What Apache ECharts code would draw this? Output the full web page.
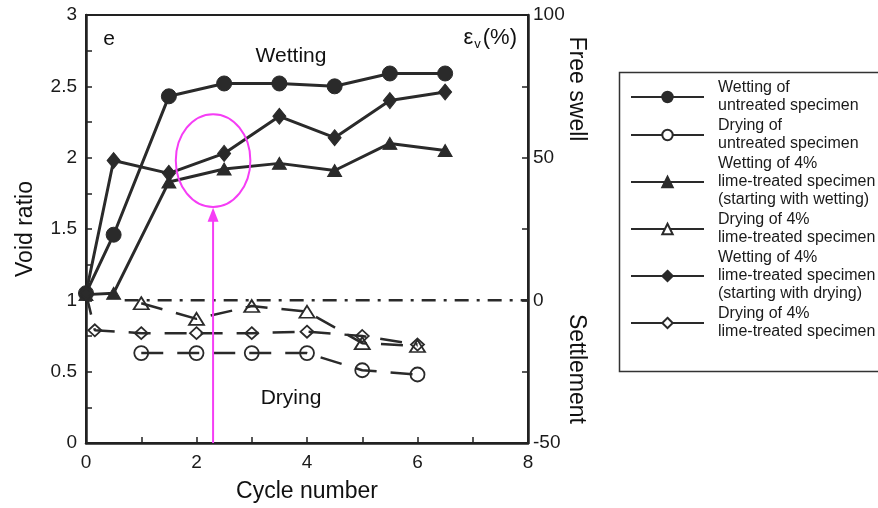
<!DOCTYPE html>
<html><head><meta charset="utf-8">
<script src="https://cdn.jsdelivr.net/npm/echarts@6/dist/echarts.min.js"></script>
<style>html,body{margin:0;padding:0;background:#fff}#c{width:878px;height:508px}</style>
</head><body><div id="c"></div>
<script>
// ---- data (cycle number, void ratio) ----
const wetUntreated = [[0,1.05],[0.5,1.46],[1.5,2.43],[2.5,2.52],[3.5,2.52],[4.5,2.50],[5.5,2.59],[6.5,2.59]];
const dryUntreated = [[1,0.63],[2,0.63],[3,0.63],[4,0.63],[5,0.51],[6,0.48]];
const wetLimeW = [[0,1.04],[0.5,1.05],[1.5,1.83],[2.5,1.92],[3.5,1.96],[4.5,1.91],[5.5,2.10],[6.5,2.05]];
const dryLime = [[1,0.98],[2,0.87],[3,0.96],[4,0.92],[5,0.70],[6,0.68]];
const wetLimeD = [[0,1.05],[0.5,1.98],[1.5,1.89],[2.5,2.03],[3.5,2.29],[4.5,2.14],[5.5,2.40],[6.5,2.46]];
const dryLimeD = [[0,1.05],[0.16,0.79],[1,0.77],[2,0.77],[3,0.77],[4,0.78],[5,0.75],[6,0.69]];
const zeroLine = [[0.7,1],[8,1]];
const arrowLine = [[2.3,0],[2.3,1.6]];
const ellipseCenter = [2.3,1.98];
const ellipseRadius = [0.675,0.325];

const labels = {
  wu:'Wetting of\nuntreated specimen',
  du:'Drying of\nuntreated specimen',
  wlw:'Wetting of 4%\nlime-treated specimen\n(starting with wetting)',
  dl:'Drying of 4%\nlime-treated specimen',
  wld:'Wetting of 4%\nlime-treated specimen\n(starting with drying)',
  dld:'Drying of 4%\nlime-treated specimen'
};
const xTicksMax = 8, yLeftMax = 3, yRightMin = -50, yRightMax = 100;

const FONT = 'Liberation Sans, Arial, sans-serif';
const INK = '#2a2a2a';
const PINK = '#f53df5';

const chart = echarts.init(document.getElementById('c'), null, {renderer:'canvas'});

function wet(name, data, symbol, size){
  return {name, type:'line', data, symbol, symbolSize:size, z:3,
    lineStyle:{color:INK, width:3}, itemStyle:{color:INK, borderColor:INK, borderWidth:1}};
}
function dry(name, data, symbol, size){
  return {name, type:'line', data, symbol, symbolSize:size, z:3,
    lineStyle:{color:INK, width:2.5, type:[22,14]}, itemStyle:{color:'rgba(255,255,255,0)', borderColor:INK, borderWidth:1.8}};
}

const axisLine = {show:true, lineStyle:{color:'#222', width:2.5}};
const tick = {show:true, inside:true, length:6, lineStyle:{color:'#222', width:1.5}};
const minor = {show:true, splitNumber:2, length:6, lineStyle:{color:'#222', width:1.5}};
const lbl = {fontFamily:FONT, fontSize:19, color:'#1a1a1a'};

chart.setOption({
  animation:false,
  backgroundColor:'#fff',
  grid:{left:86, right:350, top:15, bottom:65, show:true, borderColor:'#222', borderWidth:2, containLabel:false},
  xAxis:{type:'value', min:0, max:xTicksMax, interval:2,
    name:'Cycle number', nameLocation:'middle', nameGap:37,
    nameTextStyle:{fontFamily:FONT, fontSize:23, color:'#111'},
    axisLine, axisTick:tick, minorTick:minor, splitLine:{show:false}, minorSplitLine:{show:false},
    axisLabel:Object.assign({margin:10}, lbl)},
  yAxis:[
    {type:'value', min:0, max:yLeftMax, interval:0.5, position:'left',
      name:'Void ratio', nameLocation:'middle', nameGap:49, nameRotate:90,
      nameTextStyle:{fontFamily:FONT, fontSize:23, color:'#111'},
      axisLine, axisTick:tick, minorTick:minor, splitLine:{show:false},
      axisLabel:Object.assign({margin:9}, lbl)},
    {type:'value', min:yRightMin, max:yRightMax, interval:50, position:'right',
      axisLine, axisTick:tick, minorTick:minor, splitLine:{show:false},
      axisLabel:Object.assign({margin:5}, lbl)}
  ],
  legend:{orient:'vertical', left:630, top:79, padding:0, itemWidth:73, itemHeight:13, itemGap:2,
    textStyle:{fontFamily:FONT, fontSize:16, lineHeight:18, color:'#1a1a1a', padding:[0,0,0,9]},
    formatter:n=>labels[n],
    data:[
      {name:'wu'},
      {name:'du', lineStyle:{type:'solid'}, itemStyle:{color:'#fff'}},
      {name:'wlw'},
      {name:'dl', lineStyle:{type:'solid'}, itemStyle:{color:'#fff'}},
      {name:'wld'},
      {name:'dld', lineStyle:{type:'solid'}, itemStyle:{color:'#fff'}}
    ]},
  series:[
    wet('wu', wetUntreated, 'circle', 15),
    dry('du', dryUntreated, 'circle', 14),
    wet('wlw', wetLimeW, 'triangle', [14,12]),
    dry('dl', dryLime, 'triangle', [15,12]),
    wet('wld', wetLimeD, 'diamond', [13,16]),
    dry('dld', dryLimeD, 'diamond', [13,12]),
    {name:'zero', type:'line', data:zeroLine, symbol:'none', z:2,
      lineStyle:{color:INK, width:2.5, type:[14,8,3,8]}},
    {name:'arrow', type:'line', z:4, data:arrowLine.map((p,i)=> i===arrowLine.length-1
        ? {value:p, symbol:'triangle', symbolSize:[11,14]} : {value:p, symbol:'none'}),
      lineStyle:{color:PINK, width:2}, itemStyle:{color:PINK}}
  ]
});

const c = chart.convertToPixel({gridIndex:0}, ellipseCenter);
const e1 = chart.convertToPixel({gridIndex:0}, [ellipseCenter[0]+ellipseRadius[0], ellipseCenter[1]+ellipseRadius[1]]);
const txt = (text, x, y, size, extra) => Object.assign({type:'text', x, y, z:10,
  style:{text, fontFamily:FONT, fontSize:size, fill:'#111', align:'center', verticalAlign:'middle'}}, extra||{});

chart.setOption({graphic:[
  {type:'ellipse', z:5, shape:{cx:c[0], cy:c[1], rx:Math.abs(e1[0]-c[0]), ry:Math.abs(c[1]-e1[1])},
    style:{fill:'none', stroke:PINK, lineWidth:2}},
  {type:'rect', z:1, shape:{x:619.5, y:72.5, width:270, height:299},
    style:{fill:'none', stroke:'#333', lineWidth:1.5}},
  txt('e', 109, 39, 21),
  txt('Wetting', 291, 56, 21),
  txt('Drying', 291, 398, 21),
  txt('Free swell', 576, 89, 23, {rotation:-Math.PI/2}),
  txt('Settlement', 576, 369, 23, {rotation:-Math.PI/2}),
  {type:'text', x:517, y:38, z:10, style:{text:'{a|ε}{b|v}{a|(%)}', align:'right', verticalAlign:'middle',
    fill:'#111', fontFamily:FONT,
    rich:{a:{fontSize:22, fontFamily:FONT, fill:'#111', lineHeight:26, verticalAlign:'middle'},
          b:{fontSize:13, fontFamily:FONT, fill:'#111', lineHeight:26, verticalAlign:'bottom', padding:[0,2,0,1]}}}}
]});
</script></body></html>
